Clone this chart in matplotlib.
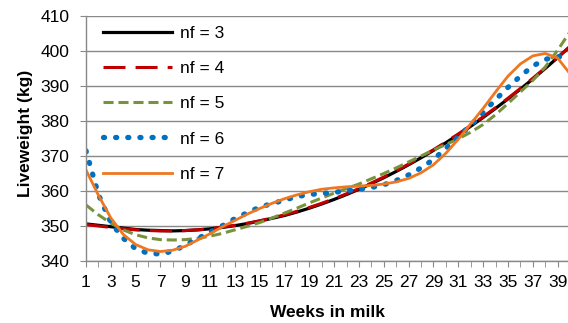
import numpy as np
import matplotlib
matplotlib.use("Agg")
import matplotlib.pyplot as plt

plt.rcParams['font.family'] = ['Liberation Sans', 'DejaVu Sans']

weeks = np.arange(1, 41)

nf3 = [350.6, 350.2, 349.8, 349.4, 349.0, 348.8, 348.7, 348.6, 348.7, 348.9,
       349.2, 349.6, 350.1, 350.7, 351.4, 352.2, 353.0, 354.0, 355.1, 356.3,
       357.6, 359.0, 360.5, 362.1, 363.8, 365.6, 367.5, 369.5, 371.6, 373.8,
       376.1, 378.5, 381.0, 383.6, 386.3, 389.1, 392.0, 395.0, 398.1, 401.3]
nf4 = [350.4, 350.0, 349.6, 349.2, 348.9, 348.7, 348.6, 348.6, 348.7, 348.9,
       349.2, 349.7, 350.2, 350.8, 351.5, 352.3, 353.2, 354.2, 355.3, 356.5,
       357.8, 359.2, 360.7, 362.3, 364.0, 365.8, 367.7, 369.7, 371.8, 374.0,
       376.3, 378.7, 381.2, 383.8, 386.5, 389.3, 392.2, 395.2, 398.2, 401.2]
nf5 = [356.0, 353.2, 350.8, 348.9, 347.5, 346.6, 346.1, 346.0, 346.1, 346.5,
       347.1, 347.9, 348.9, 349.9, 351.0, 352.3, 353.7, 355.1, 356.6, 358.0,
       359.4, 360.7, 362.0, 363.5, 365.0, 366.6, 368.3, 370.0, 371.7, 373.3,
       374.9, 376.8, 379.0, 381.8, 385.0, 388.3, 391.6, 395.4, 400.2, 405.5]
nf6 = [371.5, 359.0, 351.0, 346.5, 343.5, 342.2, 342.0, 342.8, 344.5, 346.4,
       348.3, 350.1, 352.1, 353.8, 355.4, 356.4, 357.4, 358.4, 359.0, 359.3,
       359.6, 360.1, 360.5, 361.0, 361.8, 363.0, 364.6, 366.6, 369.0, 372.2,
       375.5, 378.8, 382.4, 386.1, 389.6, 392.8, 395.7, 397.6, 398.4, 398.1]
nf7 = [366.0, 358.8, 352.3, 347.6, 344.7, 343.2, 342.7, 343.1, 344.2, 346.0,
       347.8, 349.8, 351.6, 353.4, 355.0, 356.5, 357.8, 358.9, 359.8, 360.5,
       360.9, 361.2, 361.4, 361.6, 362.0, 362.6, 363.6, 365.2, 367.5, 370.8,
       374.8, 379.2, 383.6, 388.3, 392.8, 396.3, 398.6, 399.3, 398.0, 393.5]

fig = plt.figure(figsize=(5.68, 3.23), dpi=100)
ax = fig.add_axes([86/568, 62/323, 484/568, 245/323])

ax.plot(weeks, nf3, color="black", lw=2.3, label="nf = 3")
ax.plot(weeks, nf4, color="#C00000", lw=2.2, dashes=(7.2, 3.3), label="nf = 4")
ax.plot(weeks, nf5, color="#77933C", lw=2.2, dashes=(3.3, 1.6), label="nf = 5")
line6, = ax.plot(weeks, nf6, color="#0070C0", lw=3.8, dashes=(0.2, 2.1),
                 label="nf = 6")
line6.set_dash_capstyle("round")
ax.plot(weeks, nf7, color="#EE7720", lw=2.0, label="nf = 7")

ax.set_xlim(1, 40)
ax.set_ylim(340, 410)
ax.set_yticks(np.arange(340, 411, 10))
ax.set_xticks(weeks, minor=True)
ax.set_xticks(np.arange(1, 40, 2))
ax.yaxis.grid(True, color="#898989", lw=1.0)
ax.set_axisbelow(True)

for s in ["top", "right"]:
    ax.spines[s].set_visible(False)
for s in ["left", "bottom"]:
    ax.spines[s].set_color("#898989")
    ax.spines[s].set_linewidth(1.0)
ax.tick_params(axis="both", which="both", color="#898989", length=4,
               labelsize=12.5)
ax.tick_params(axis="y", pad=8)
ax.tick_params(axis="x", which="major", pad=6)

ax.set_xlabel("Weeks in milk", fontsize=12.5, fontweight="bold")
ax.set_ylabel("Liveweight (kg)", fontsize=12.5, fontweight="bold")
ax.xaxis.set_label_coords(0.5, -0.18)
ax.yaxis.set_label_coords(-0.11, 0.52)

leg = ax.legend(loc="upper left", bbox_to_anchor=(103/568, 1 - 26/323),
                bbox_transform=fig.transFigure, frameon=False,
                fontsize=12.5, handlelength=4.0, labelspacing=1.15,
                handletextpad=0.45, borderaxespad=0, borderpad=0)

fig.savefig("out.png", dpi=100)
